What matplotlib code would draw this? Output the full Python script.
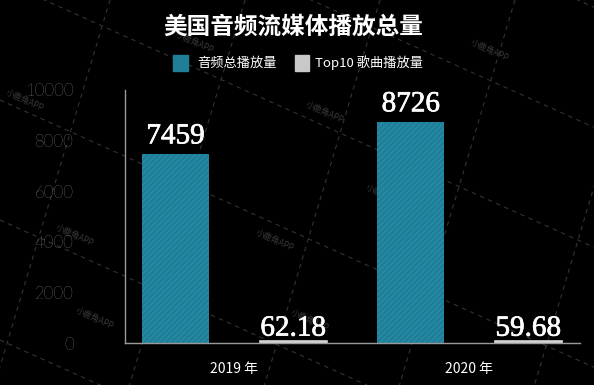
import numpy as np
import matplotlib
matplotlib.use("Agg")
import matplotlib.pyplot as plt
import matplotlib.patheffects as pe

plt.rcParams['font.family'] = ['Noto Sans CJK SC', 'DejaVu Sans']

# ---- data ----
title = "美国音频流媒体播放总量"
years = ["2019 年", "2020 年"]
series_names = ["音频总播放量", "Top10 歌曲播放量"]
total_plays = [7459, 8726]
top10_plays = [62.18, 59.68]
yticks = [0, 2000, 4000, 6000, 8000, 10000]

W, H = 594, 385
fig = plt.figure(figsize=(W / 100, H / 100), dpi=100, facecolor='black')

# background decoration: rotated dashed grid + watermark text
bg = fig.add_axes([0, 0, 1, 1], zorder=0)
bg.set_xlim(0, W)
bg.set_ylim(H, 0)
bg.axis('off')
bg.set_facecolor('black')
slope = 0.45
for b in np.arange(-400, 700, 120):
    xs = np.array([0, W])
    bg.plot(xs, b + slope * xs + 20, ls=(0, (4, 4)), color='#333333', lw=0.8)
tilt = -0.3
for a in np.arange(-100, 900, 135):
    ys = np.array([0, H])
    bg.plot(a + tilt * ys + 75, ys, ls=(0, (4, 4)), color='#333333', lw=0.8)
for (x, y) in [(25, 100), (195, 42), (325, 112), (490, 50), (175, 180), (75, 235), (275, 240),
               (385, 195), (310, 320), (410, 310), (95, 318)]:
    bg.text(x, y, "小鹿角APP", color='#383838', fontsize=6, rotation=-25,
            ha='center', va='center')

# ---- main chart ----
ax = fig.add_axes([125 / W, 1 - 343 / H, (580 - 125) / W, (343 - 90) / H], zorder=1)
ax.set_facecolor('none')

teal = '#1f7f99'
grey = '#d4d4d4'
x_total = np.array([0, 2])
x_top = np.array([1, 3])
bw = 0.57

matplotlib.rcParams['hatch.linewidth'] = 0.6
ax.bar(x_total, total_plays, width=bw, color=teal, edgecolor='#2d93b0', hatch='//////',
       linewidth=0)
ax.bar(x_top, top10_plays, width=bw, color=grey, edgecolor=grey, linewidth=1.2)

stroke = [pe.withStroke(linewidth=0.5, foreground='white')]
for xi, v in zip(x_total, total_plays):
    ax.text(xi, v + 430, f"{v}", ha='center', va='baseline', color='white',
            fontsize=21, family='Liberation Serif', path_effects=stroke)
for xi, v in zip(x_top, top10_plays):
    ax.text(xi, v + 230, f"{v:.2f}", ha='center', va='baseline', color='white',
            fontsize=21, family='Liberation Serif', path_effects=stroke)

ax.set_xlim(-0.43, 3.44)
ax.set_ylim(0, 10000)
ax.set_yticks(yticks)
ax.set_yticklabels([str(t) for t in yticks], color='#cfcfcf', fontsize=12,
                   family=['Lato', 'DejaVu Sans'], fontweight='light')
ax.set_xticks([0.5, 2.5])
ax.set_xticklabels(years, color='white', fontsize=10)
ax.tick_params(axis='y', length=0, pad=37)
ax.tick_params(axis='x', length=0, pad=14)
for s in ['top', 'right']:
    ax.spines[s].set_visible(False)
for s in ['left', 'bottom']:
    ax.spines[s].set_color('#9a9a9a')
    ax.spines[s].set_linewidth(1.0)

# title and legend
fig.text(293 / W, 1 - 27 / H, title, ha='center', va='center', color='white',
         fontsize=17, fontweight='heavy')
fig.patches.append(matplotlib.patches.Rectangle((173 / W, 1 - 71 / H), 15 / W, 16 / H,
                                                transform=fig.transFigure, color=teal))
fig.text(197 / W, 1 - 63 / H, series_names[0], ha='left', va='center', color='white',
         fontsize=9.5)
fig.patches.append(matplotlib.patches.Rectangle((295 / W, 1 - 71 / H), 14 / W, 16 / H,
                                                transform=fig.transFigure, color='#c8c8c8'))
fig.text(315 / W, 1 - 63 / H, series_names[1], ha='left', va='center', color='white',
         fontsize=9.5)

fig.savefig("out.png", dpi=100, facecolor='black')
